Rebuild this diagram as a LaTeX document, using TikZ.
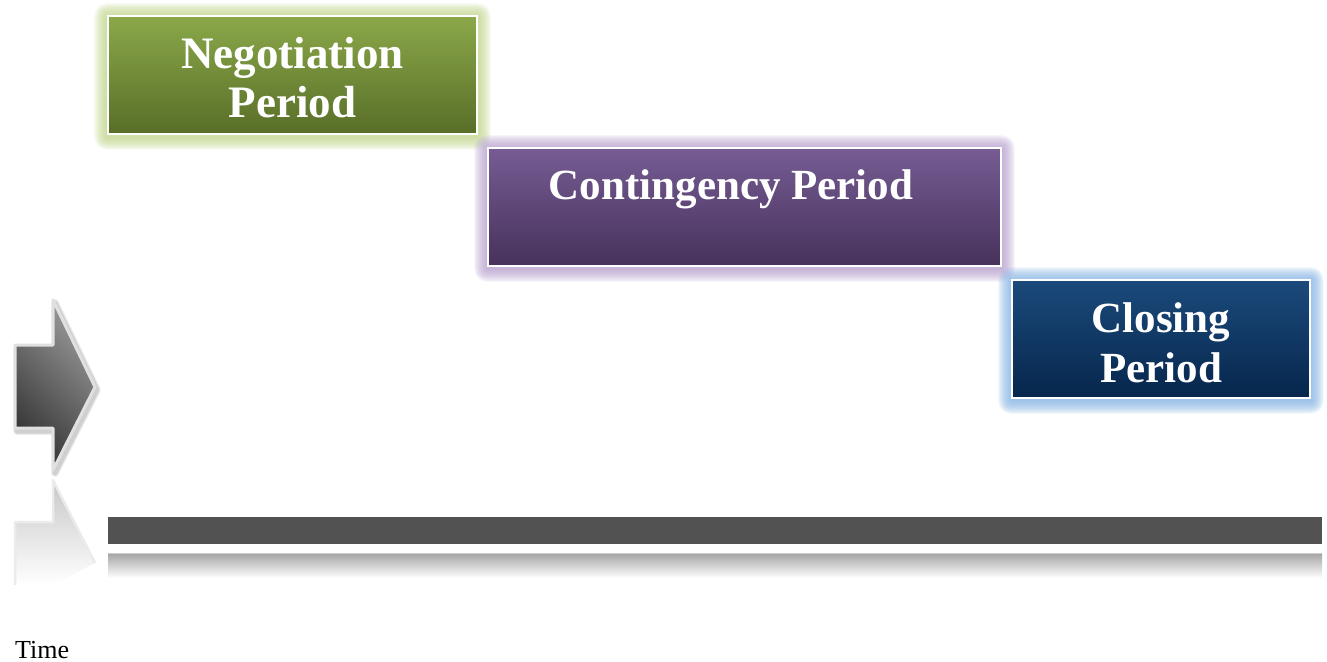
\documentclass[tikz,border=0pt]{standalone}
\usepackage{fontspec}
\setmainfont{Liberation Serif}
\usetikzlibrary{calc}

\definecolor{greenTop}{HTML}{8BA849}
\definecolor{greenBot}{HTML}{586E28}
\definecolor{greenGlow}{HTML}{C4D98F}
\definecolor{purpleTop}{HTML}{765C93}
\definecolor{purpleBot}{HTML}{46325C}
\definecolor{purpleGlow}{HTML}{B9A4D2}
\definecolor{blueTop}{HTML}{1B4A7C}
\definecolor{blueBot}{HTML}{06264C}
\definecolor{blueGlow}{HTML}{86B6E6}
\definecolor{barGray}{HTML}{525252}

\pgfdeclarelayer{paper}
\pgfdeclarelayer{halo}
\pgfsetlayers{paper,halo,main}

\tikzset{
  period/.style={draw=white, line width=1.6pt, inner sep=0pt},
  caption/.style={anchor=base, inner sep=0pt, text=white,
    font=\fontsize{#1}{#1}\selectfont\bfseries},
  caption/.default=43,
  glowring/.style={fill=#1, opacity=0.1}
}

% soft halo behind a named box
\newcommand{\halo}[2]{%
  \begin{pgfonlayer}{halo}
    \foreach \k in {1,...,13}{
      \fill[glowring=#2, rounded corners=\k pt]
        ($(#1.south west)+(-\k,\k+2)$) rectangle ($(#1.north east)+(\k,-\k+1)$);
    }
  \end{pgfonlayer}}

\begin{document}
\begin{tikzpicture}[x=1pt,y=-1pt]
\useasboundingbox (0,0) rectangle (1327,661);
\begin{pgfonlayer}{paper}
  \fill[white] (0,0) rectangle (1327,661);
\end{pgfonlayer}

% phase boxes
\node[period, top color=greenTop, bottom color=greenBot,
      minimum width=369, minimum height=118] (neg) at (292.5,75) {};
\node[period, top color=purpleTop, bottom color=purpleBot,
      minimum width=513, minimum height=118] (cont) at (744.5,207) {};
\node[period, top color=blueTop, bottom color=blueBot,
      minimum width=298, minimum height=118] (clos) at (1161,339) {};
\halo{neg}{greenGlow}
\halo{cont}{purpleGlow}
\halo{clos}{blueGlow}

% box captions, one node per line
\node[caption=45] (negA)  at (neg.center |- 0,68)  {Negotiation};
\node[caption=45] (negB)  at (neg.center |- 0,117) {Period};
\node[caption]    (contA) at (731,199)             {Contingency Period};
\node[caption]    (closA) at (clos.center |- 0,332) {Closing};
\node[caption]    (closB) at (clos.center |- 0,382) {Period};

% time axis bar and its reflection
\fill[barGray] (108,517) rectangle (1322,544);
\shade[top color=black!36, bottom color=white] (108,553) rectangle (1322,578);
\draw[black!20, line width=0.6pt] (108,553) -- (1322,553);

% arrow shadow
\foreach \k in {1,...,5}{
  \draw[black, opacity=0.04, line width=3pt+\k pt, line join=round, shift={(2,3)}]
    (15,345) -- (53,345) -- (53,300) -- (95,387) -- (53,470) -- (53,428) -- (15,428) -- cycle;
}
% arrow, dark lower left to lighter upper right
\draw[black!12, line width=3pt, line join=round, left color=black!80, right color=black!40,
      shading angle=135]
  (15,345) -- (53,345) -- (53,300) -- (95,387) -- (53,470) -- (53,428) -- (15,428) -- cycle;

% arrow reflection
\begin{scope}
  \clip (0,478) rectangle (110,585);
  \shade[top color=black!22, bottom color=white]
    (15,522) -- (53,522) -- (53,480) -- (95,563) -- (53,585) -- (15,585) -- cycle;
  \draw[black!8, line width=2.5pt, line join=round]
    (15,585) -- (15,522) -- (53,522) -- (53,480) -- (95,563);
\end{scope}

\node[anchor=base west, inner sep=0pt, font=\fontsize{26}{30}\selectfont] (time) at (15,658) {Time};
\end{tikzpicture}
\end{document}
